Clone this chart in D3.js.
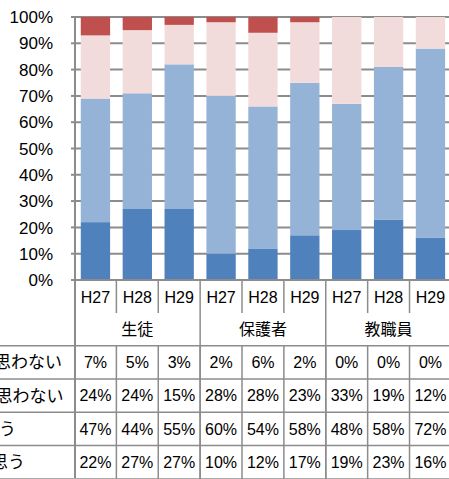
<!DOCTYPE html>
<html>
<head>
<meta charset="utf-8">
<script src="https://cdn.jsdelivr.net/npm/d3@7"></script>
<style>
  body { margin: 0; background: #fff; overflow: hidden; }
  text { font-family: "Liberation Sans", "Noto Sans CJK JP", sans-serif; fill: #000; }
</style>
</head>
<body>
<script>
// data
const years = ["H27", "H28", "H29", "H27", "H28", "H29", "H27", "H28", "H29"];
const groups = ["生徒", "保護者", "教職員"];
const rowLabels = ["全く思わない", "あまり思わない", "まあそう思う", "とてもそう思う"];
const strongly = [22, 27, 27, 10, 12, 17, 19, 23, 16];
const somewhat = [47, 44, 55, 60, 54, 58, 48, 58, 72];
const notMuch  = [24, 24, 15, 28, 28, 23, 33, 19, 12];
const notAtAll = [7, 5, 3, 2, 6, 2, 0, 0, 0];
const yTicks = [0, 10, 20, 30, 40, 50, 60, 70, 80, 90, 100];

const width = 449, height = 479;
const colors = ["#4F81BD", "#95B3D7", "#F2DCDB", "#C0504D"];
const keys = ["strongly", "somewhat", "notMuch", "notAtAll"];
const rows = years.map((y, i) => ({
    i: i, strongly: strongly[i], somewhat: somewhat[i], notMuch: notMuch[i], notAtAll: notAtAll[i]
}));

const svg = d3.select('body').append('svg')
    .attr('width', width).attr('height', height);

const x = d3.scaleBand().domain(d3.range(years.length))
    .range([74.5, 451.4]).paddingInner(0.3).paddingOuter(0.15);
const y = d3.scaleLinear().domain([0, 100]).range([280, 17]);
const step = x.step();
const left = 74.5, right = 451.4;

// gridlines
svg.append('g').selectAll('line').data(yTicks.slice(1)).enter().append('line')
    .attr('x1', left).attr('x2', right)
    .attr('y1', d => y(d)).attr('y2', d => y(d))
    .attr('stroke', '#8c8c8c').attr('stroke-width', 2);

// bars
const stack = d3.stack().keys(keys)(rows);
svg.append('g').selectAll('g').data(stack).enter().append('g')
    .attr('fill', (d, i) => colors[i])
    .selectAll('rect').data(d => d).enter().append('rect')
    .attr('x', d => x(d.data.i))
    .attr('width', x.bandwidth())
    .attr('y', d => y(d[1]))
    .attr('height', d => y(d[0]) - y(d[1]));

// y axis labels
svg.append('g').selectAll('text').data(yTicks).enter().append('text')
    .attr('x', 53).attr('y', d => y(d)).attr('dy', '0.36em')
    .attr('text-anchor', 'end').style('font-size', '17px')
    .text(d => d + '%');

// axis lines
const grey = '#8c8c8c';
svg.append('line').attr('x1', 75).attr('x2', 75).attr('y1', y(100)).attr('y2', 478)
    .attr('stroke', grey).attr('stroke-width', 2);
svg.append('g').selectAll('line').data(yTicks).enter().append('line')
    .attr('x1', 71).attr('x2', 75).attr('y1', d => y(d)).attr('y2', d => y(d))
    .attr('stroke', grey).attr('stroke-width', 2);
svg.append('line').attr('x1', 74).attr('x2', right).attr('y1', y(0)).attr('y2', y(0))
    .attr('stroke', grey).attr('stroke-width', 2);

// data table
const tbl = svg.append('g');
const headTop = 280, yearBottom = 313, headBottom = 345.7, rowH = 33.3;
// year dividers
tbl.selectAll('.yd').data(d3.range(1, years.length)).enter().append('line')
    .attr('x1', d => left + d * step).attr('x2', d => left + d * step)
    .attr('y1', headTop).attr('y2', d => d % 3 === 0 ? headBottom + rowH * 4 : yearBottom)
    .attr('stroke', grey).attr('stroke-width', 1.5);
// body column dividers
tbl.selectAll('.bd').data(d3.range(1, years.length)).enter().append('line')
    .attr('x1', d => left + d * step).attr('x2', d => left + d * step)
    .attr('y1', headBottom).attr('y2', headBottom + rowH * 4)
    .attr('stroke', grey).attr('stroke-width', 1.5);
// horizontal lines
tbl.selectAll('.hl').data(d3.range(5)).enter().append('line')
    .attr('x1', 0).attr('x2', right)
    .attr('y1', d => headBottom + d * rowH).attr('y2', d => headBottom + d * rowH)
    .attr('stroke', grey).attr('stroke-width', 1.5);

// header texts
tbl.selectAll('.yt').data(years).enter().append('text')
    .attr('x', (d, i) => left + (i + 0.5) * step).attr('y', 303)
    .attr('text-anchor', 'middle').style('font-size', '16px')
    .text(d => d);
tbl.selectAll('.gt').data(groups).enter().append('text')
    .attr('x', (d, i) => left + (i * 3 + 1.5) * step).attr('y', 335)
    .attr('text-anchor', 'middle').style('font-size', '16px')
    .text(d => d);

// row labels and values
const tableRows = [notAtAll, notMuch, somewhat, strongly];
const labelEnds = [62, 63.5, 16, 25];
tableRows.forEach((vals, r) => {
    const cy = headBottom + (r + 0.5) * rowH;
    tbl.append('text').attr('x', labelEnds[r]).attr('y', cy).attr('dy', '0.36em')
        .attr('text-anchor', 'end').style('font-size', '17px')
        .text(rowLabels[r]);
    tbl.selectAll('.v' + r).data(vals).enter().append('text')
        .attr('x', (d, i) => left + (i + 0.5) * step).attr('y', cy).attr('dy', '0.36em')
        .attr('text-anchor', 'middle').style('font-size', '16px')
        .text(d => d + '%');
});
</script>
</body>
</html>
